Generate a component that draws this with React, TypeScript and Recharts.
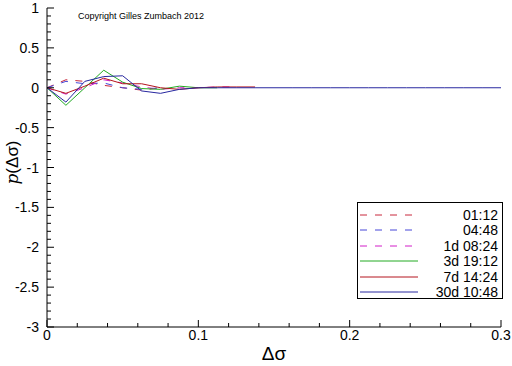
import React from 'react';
import { LineChart, Line, XAxis, YAxis, Legend, Label } from 'recharts';

// sample positions (delta sigma)
const xSteps = [
  0, 0.0125, 0.025, 0.0375, 0.05, 0.0625, 0.075, 0.0875, 0.1, 0.1125, 0.125, 0.1375, 0.15,
  0.1625, 0.175, 0.1875, 0.2, 0.2125, 0.225, 0.2375, 0.25, 0.2625, 0.275, 0.2875, 0.3,
];

const seriesNames = ['01:12', '04:48', '1d 08:24', '3d 19:12', '7d 14:24', '30d 10:48'];

const vals0112 = [0, 0.1, 0.08, 0.03, 0.0, -0.03, 0.0];
const vals0448 = [0, 0.08, 0.05, 0.06, 0.0, -0.02, 0.0];
const vals1d = [0, -0.08, 0.0, 0.1, 0.06, 0.01, -0.02, 0.0, 0.0, 0.01, 0.01];
const vals3d = [0, -0.22, 0.0, 0.22, 0.07, -0.01, -0.02, 0.02, 0.0, 0.0];
const vals7d = [0, -0.07, 0.02, 0.12, 0.05, 0.05, 0.0, -0.02, 0.0, 0.01, 0.01, 0.01];
const vals30d = [
  0, -0.18, 0.08, 0.14, 0.15, -0.04, -0.07, -0.02, 0, 0, 0, 0, 0,
  0, 0, 0, 0, 0, 0, 0, 0, 0, 0, 0, 0,
];

const xMajorTicks = [0, 0.1, 0.2, 0.3];
const yMajorTicks = [1, 0.5, 0, -0.5, -1, -1.5, -2, -2.5, -3];

const xTicks = Array.from({ length: 16 }, (_, i) => Math.round(i * 20) / 1000);
const yTicks = Array.from({ length: 41 }, (_, i) => Math.round(10 - i) / 10);

const FONT = '"Liberation Sans", Arial, sans-serif';
const X_MARGIN = 2;
const Y_MARGIN = 8;

const toPoints = (vals: number[]) => vals.map((y, i) => ({ x: xSteps[i], y }));

const series = [
  { name: seriesNames[0], data: toPoints(vals0112), color: '#c8283c', dash: '7 8' },
  { name: seriesNames[1], data: toPoints(vals0448), color: '#4646d8', dash: '7 8' },
  { name: seriesNames[2], data: toPoints(vals1d), color: '#d21ec8', dash: '7 8' },
  { name: seriesNames[3], data: toPoints(vals3d), color: '#22aa22', dash: undefined },
  { name: seriesNames[4], data: toPoints(vals7d), color: '#b4141e', dash: undefined },
  { name: seriesNames[5], data: toPoints(vals30d), color: '#2828a0', dash: undefined },
];

const isMajor = (list: number[], v: number) => list.some((t) => Math.abs(t - v) < 1e-9);

const XTick = (props: any) => {
  const { x, y, payload } = props;
  const v = payload.value;
  const major = isMajor(xMajorTicks, v);
  const axisY = y - X_MARGIN;
  return (
    <g>
      <line x1={x} x2={x} y1={axisY} y2={axisY - (major ? 7 : 4)} stroke="#000" />
      {major && (
        <text x={x} y={axisY + 13} textAnchor="middle" fontSize={14} fontFamily={FONT} fill="#000">
          {v}
        </text>
      )}
    </g>
  );
};

const YTick = (props: any) => {
  const { x, y, payload } = props;
  const v = payload.value;
  const major = isMajor(yMajorTicks, v);
  const axisX = x + Y_MARGIN;
  return (
    <g>
      <line x1={axisX} x2={axisX + (major ? 7 : 4)} y1={y} y2={y} stroke="#000" />
      {major && (
        <text x={x} y={y + 5} textAnchor="end" fontSize={14} fontFamily={FONT} fill="#000">
          {v}
        </text>
      )}
    </g>
  );
};

const LegendBox = () => (
  <div
    style={{
      width: 146,
      height: 97,
      border: '1px solid #000',
      boxSizing: 'border-box',
      background: '#fff',
      position: 'relative',
      fontFamily: FONT,
      fontSize: 14,
    }}
  >
    {series.map((s, i) => (
      <div key={s.name} style={{ position: 'absolute', left: 0, top: 4 + i * 15.4, width: 144, height: 16 }}>
        <svg width={70} height={16} style={{ position: 'absolute', left: 0, top: 0 }}>
          <line x1={2} x2={60} y1={8} y2={8} stroke={s.color} strokeDasharray={s.dash} />
        </svg>
        <span style={{ position: 'absolute', right: 4, top: 0, lineHeight: '16px' }}>{s.name}</span>
      </div>
    ))}
  </div>
);

const App = () => (
  <div style={{ position: 'absolute', left: 0, top: 0, width: 512, height: 366, background: '#fff' }}>
    <LineChart width={512} height={366} margin={{ top: 8, right: 11, left: 0, bottom: 0 }}>
      <XAxis
        dataKey="x"
        type="number"
        domain={[0, 0.3]}
        ticks={xTicks}
        interval={0}
        tick={<XTick />}
        tickLine={false}
        tickSize={0}
        tickMargin={X_MARGIN}
        height={39}
        axisLine={{ stroke: '#000' }}
        allowDuplicatedCategory={false}
      >
        <Label value="Δσ" position="insideBottom" offset={6} fontSize={19} fontFamily={FONT} fill="#000" />
      </XAxis>
      <YAxis
        type="number"
        domain={[-3, 1]}
        ticks={yTicks}
        interval={0}
        tick={<YTick />}
        tickLine={false}
        tickSize={0}
        tickMargin={Y_MARGIN}
        width={47}
        axisLine={{ stroke: '#000' }}
      >
        <Label
          content={(p: any) => {
            const vb = p.viewBox || { x: 0, y: 8, height: 319 };
            const cx = vb.x + 18;
            const cy = vb.y + vb.height / 2 - 5;
            return (
              <text
                transform={`translate(${cx},${cy}) rotate(-90)`}
                textAnchor="middle"
                fontSize={17}
                fontFamily={FONT}
                fill="#000"
              >
                <tspan fontStyle="italic" fontFamily='"DejaVu Serif", serif'>p</tspan>(Δσ)
              </text>
            );
          }}
        />
      </YAxis>
      <Legend
        layout="horizontal"
        verticalAlign="middle"
        align="center"
        content={<LegendBox />}
        wrapperStyle={{ left: 357, top: 202, width: 146, height: 97 }}
      />
      {series.map((s) => (
        <Line
          key={s.name}
          name={s.name}
          data={s.data}
          dataKey="y"
          type="linear"
          stroke={s.color}
          strokeWidth={1}
          strokeDasharray={s.dash}
          dot={false}
          activeDot={false}
          isAnimationActive={false}
        />
      ))}
    </LineChart>
    <div
      style={{
        position: 'absolute',
        left: 78,
        top: 11,
        fontSize: 9,
        fontFamily: FONT,
        color: '#000',
        whiteSpace: 'nowrap',
      }}
    >
      Copyright Gilles Zumbach 2012
    </div>
  </div>
);

export default App;
